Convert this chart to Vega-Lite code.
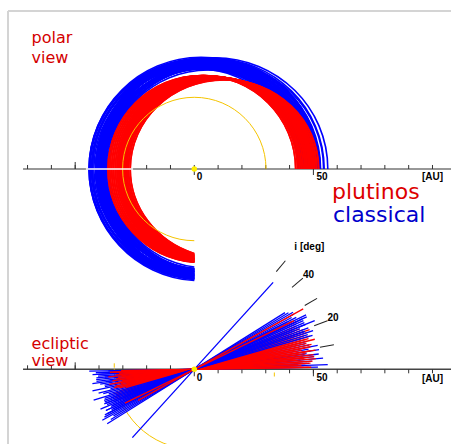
{
  "$schema": "https://vega.github.io/schema/vega-lite/v6.json",
  "width": 443,
  "height": 433,
  "autosize": "none",
  "padding": {"left": 8, "top": 11, "right": 0, "bottom": 0},
  "background": "white",
  "config": {"view": {"stroke": null}},
  "datasets": {
    "kbo": [
      {"g":"c","a":44.0,"e":0.06,"i":2},{"g":"c","a":43.0,"e":0.04,"i":5},{"g":"c","a":45.0,"e":0.02,"i":1},
      {"g":"c","a":46.5,"e":0.06,"i":12},{"g":"c","a":42.0,"e":0.04,"i":3},{"g":"c","a":47.5,"e":0.18,"i":2},
      {"g":"c","a":46.0,"e":0.1,"i":6},{"g":"c","a":43.5,"e":0.12,"i":10},{"g":"c","a":45.0,"e":0.1,"i":4},
      {"g":"c","a":45.5,"e":0.06,"i":3},{"g":"c","a":46.5,"e":0.14,"i":9},{"g":"c","a":44.0,"e":0.18,"i":1},
      {"g":"c","a":45.5,"e":0.16,"i":11},{"g":"c","a":46.0,"e":0.18,"i":5},{"g":"c","a":45.0,"e":0.04,"i":8},
      {"g":"c","a":42.5,"e":0.12,"i":8},{"g":"c","a":43.0,"e":0.08,"i":15},{"g":"c","a":47.0,"e":0.12,"i":7},
      {"g":"c","a":45.0,"e":0.08,"i":14},{"g":"c","a":42.0,"e":0.14,"i":13},
      {"g":"p","a":39.4,"e":0.1,"i":2},{"g":"p","a":39.5,"e":0.26,"i":4},{"g":"p","a":39.3,"e":0.18,"i":6},
      {"g":"p","a":39.4,"e":0.22,"i":1},{"g":"p","a":39.6,"e":0.3,"i":9},{"g":"p","a":39.4,"e":0.14,"i":12},
      {"g":"p","a":39.2,"e":0.24,"i":15},{"g":"p","a":39.5,"e":0.2,"i":3},{"g":"p","a":39.4,"e":0.28,"i":7},
      {"g":"p","a":39.3,"e":0.12,"i":18},{"g":"p","a":39.4,"e":0.16,"i":10},{"g":"p","a":39.5,"e":0.32,"i":14},
      {"g":"p","a":39.4,"e":0.08,"i":5},{"g":"p","a":39.4,"e":0.24,"i":20},{"g":"p","a":39.3,"e":0.2,"i":8},
      {"g":"p","a":39.5,"e":0.18,"i":16},{"g":"p","a":39.4,"e":0.26,"i":11},{"g":"p","a":39.6,"e":0.22,"i":13},
      {"g":"p","a":39.4,"e":0.3,"i":19},{"g":"p","a":39.3,"e":0.14,"i":22},{"g":"p","a":39.4,"e":0.1,"i":17},
      {"g":"p","a":39.5,"e":0.28,"i":6},{"g":"p","a":39.4,"e":0.2,"i":21},{"g":"p","a":39.4,"e":0.16,"i":4},
      {"g":"p","a":39.2,"e":0.26,"i":9},{"g":"p","a":39.5,"e":0.12,"i":8},{"g":"p","a":39.4,"e":0.24,"i":3},
      {"g":"p","a":39.4,"e":0.18,"i":14},{"g":"p","a":39.4,"e":0.22,"i":17},{"g":"p","a":39.3,"e":0.28,"i":12},
      {"g":"p","a":39.4,"e":0.08,"i":10},{"g":"p","a":39.5,"e":0.2,"i":25},{"g":"p","a":39.4,"e":0.26,"i":15},
      {"g":"p","a":39.4,"e":0.16,"i":7},{"g":"p","a":39.3,"e":0.24,"i":19},{"g":"p","a":39.5,"e":0.14,"i":2},
      {"g":"p","a":39.4,"e":0.3,"i":5},{"g":"p","a":39.4,"e":0.18,"i":23},{"g":"p","a":39.5,"e":0.22,"i":9},
      {"g":"p","a":39.4,"e":0.12,"i":13},{"g":"p","a":39.3,"e":0.26,"i":18},{"g":"p","a":39.4,"e":0.2,"i":11},
      {"g":"p","a":39.6,"e":0.24,"i":1},{"g":"p","a":39.4,"e":0.28,"i":16},{"g":"p","a":39.4,"e":0.1,"i":20},
      {"g":"p","a":39.4,"e":0.22,"i":6},
      {"g":"c","a":45.5,"e":0.1,"i":25},{"g":"c","a":46.0,"e":0.14,"i":18},{"g":"c","a":44.5,"e":0.08,"i":27},
      {"g":"c","a":47.0,"e":0.16,"i":22},{"g":"c","a":43.5,"e":0.1,"i":30},
      {"g":"c","a":44.0,"e":0.14,"i":24},{"g":"c","a":45.5,"e":0.12,"i":20},
      {"g":"c","a":44.5,"e":0.04,"i":28},{"g":"c","a":42.5,"e":0.06,"i":21},{"g":"c","a":45.0,"e":0.16,"i":26},
      {"g":"c","a":46.5,"e":0.08,"i":23},{"g":"c","a":44.0,"e":0.02,"i":32},{"g":"c","a":43.0,"e":0.14,"i":19},
      {"g":"c","a":44.5,"e":0.16,"i":16},{"g":"c","a":42.0,"e":0.08,"i":26},
      {"g":"c","a":46.0,"e":0.04,"i":29},{"g":"c","a":43.5,"e":0.16,"i":22},{"g":"c","a":44.0,"e":0.12,"i":47.8},
      {"g":"c","a":42.5,"e":0.1,"i":24},{"g":"c","a":47.0,"e":0.06,"i":17},
      {"g":"c","a":43.0,"e":0.02,"i":27},{"g":"c","a":44.5,"e":0.1,"i":19},{"g":"c","a":43.5,"e":0.06,"i":31},
      {"g":"c","a":46.5,"e":0.12,"i":25},{"g":"c","a":44.0,"e":0.08,"i":21},
      {"g":"p","a":39.6,"e":0.32,"i":29},{"g":"p","a":39.5,"e":0.18,"i":26}
    ],
    "ticks": [
      {"t":-70},{"t":-60},{"t":-50},{"t":-40},{"t":-30},{"t":-20},{"t":-10},{"t":0},{"t":10},
      {"t":20},{"t":30},{"t":40},{"t":50},{"t":60},{"t":70},{"t":80},{"t":90},{"t":100}
    ],
    "incl": [{"deg":10},{"deg":20},{"deg":30},{"deg":40},{"deg":50}],
    "one": [{}]
  },
  "resolve": {"scale": {"y": "independent", "shape": "independent"}},
  "layer": [
    {
      "layer": [
        {
          "data": {"name": "one"},
          "mark": {"type": "rule", "color": "#d4d4d4", "strokeWidth": 2},
          "encoding": {
            "x": {"datum": -78.21, "type": "quantitative", "scale": {"domain": [-78.21, 107.77], "nice": false, "zero": false}, "axis": null},
            "y": {"datum": 66.33, "type": "quantitative", "scale": {"domain": [-115.45, 66.33], "nice": false, "zero": false}, "axis": null},
            "y2": {"datum": -115.45}
          }
        },
        {
          "data": {"name": "one"},
          "mark": {"type": "rule", "color": "#d4d4d4", "strokeWidth": 2},
          "encoding": {
            "x": {"datum": -78.21, "type": "quantitative", "scale": {"domain": [-78.21, 107.77], "nice": false, "zero": false}, "axis": null},
            "x2": {"datum": 107.77},
            "y": {"datum": 66.33, "type": "quantitative", "scale": {"domain": [-115.45, 66.33], "nice": false, "zero": false}, "axis": null}
          }
        },
        {
          "data": {"name": "one"},
          "mark": {"type": "rule", "color": "#333333", "strokeWidth": 1.2},
          "encoding": {
            "x": {"datum": -71.9, "type": "quantitative", "scale": {"domain": [-78.21, 107.77], "nice": false, "zero": false}, "axis": null},
            "x2": {"datum": 107.77},
            "y": {"datum": 0, "type": "quantitative", "scale": {"domain": [-115.45, 66.33], "nice": false, "zero": false}, "axis": null}
          }
        },
        {
          "data": {"name": "ticks"},
          "mark": {"type": "rule", "color": "#333333", "strokeWidth": 1},
          "encoding": {
            "x": {"field": "t", "type": "quantitative", "scale": {"domain": [-78.21, 107.77], "nice": false, "zero": false}, "axis": null},
            "y": {"datum": 0, "type": "quantitative", "scale": {"domain": [-115.45, 66.33], "nice": false, "zero": false}, "axis": null},
            "y2": {"datum": 1.68}
          }
        },
        {
          "data": {"name": "one"},
          "mark": {"type": "rule", "color": "#333333", "strokeWidth": 1},
          "encoding": {
            "x": {"datum": -50, "type": "quantitative", "scale": {"domain": [-78.21, 107.77], "nice": false, "zero": false}, "axis": null},
            "y": {"datum": 0, "type": "quantitative", "scale": {"domain": [-115.45, 66.33], "nice": false, "zero": false}, "axis": null},
            "y2": {"datum": 2.94}
          }
        },
        {
          "data": {"name": "ticks"},
          "transform": [{"filter": "datum.t == 0 || datum.t == 50"}],
          "mark": {"type": "rule", "color": "#333333", "strokeWidth": 1},
          "encoding": {
            "x": {"field": "t", "type": "quantitative", "scale": {"domain": [-78.21, 107.77], "nice": false, "zero": false}, "axis": null},
            "y": {"datum": 0, "type": "quantitative", "scale": {"domain": [-115.45, 66.33], "nice": false, "zero": false}, "axis": null},
            "y2": {"datum": -2.52}
          }
        },
        {
          "data": {"name": "kbo"},
          "transform": [{"filter": "datum.g == 'c'"}],
          "mark": {"type": "point", "filled": false, "opacity": 1, "strokeWidth": 1.6},
          "encoding": {
            "x": {"datum": 0, "type": "quantitative", "scale": {"domain": [-78.21, 107.77], "nice": false, "zero": false}, "axis": null},
            "y": {"datum": 0, "type": "quantitative", "scale": {"domain": [-115.45, 66.33], "nice": false, "zero": false}, "axis": null},
            "size": {"field": "a", "type": "quantitative", "scale": {"type": "pow", "exponent": 2, "domain": [0, 100], "range": [0, 226957]}, "legend": null},
            "shape": {"field": "e", "type": "nominal", "legend": null, "scale": {
              "domain": [0.02,0.04,0.06,0.08,0.1,0.12,0.14,0.16,0.18,0.2,0.22,0.24,0.26,0.28,0.3,0.32],
              "range": [
                "M 1.02 0 A 1 0.9998 0 1 0 -0.98 0 A 1 0.9998 0 0 0 0 0.9996",
                "M 1.04 0 A 1 0.9992 0 1 0 -0.96 0 A 1 0.9992 0 0 0 0 0.9984",
                "M 1.06 0 A 1 0.9982 0 1 0 -0.94 0 A 1 0.9982 0 0 0 0 0.9964",
                "M 1.08 0 A 1 0.9968 0 1 0 -0.92 0 A 1 0.9968 0 0 0 0 0.9936",
                "M 1.1 0 A 1 0.995 0 1 0 -0.9 0 A 1 0.995 0 0 0 0 0.99",
                "M 1.12 0 A 1 0.9928 0 1 0 -0.88 0 A 1 0.9928 0 0 0 0 0.9856",
                "M 1.14 0 A 1 0.9902 0 1 0 -0.86 0 A 1 0.9902 0 0 0 0 0.9804",
                "M 1.16 0 A 1 0.9871 0 1 0 -0.84 0 A 1 0.9871 0 0 0 0 0.9744",
                "M 1.18 0 A 1 0.9837 0 1 0 -0.82 0 A 1 0.9837 0 0 0 0 0.9676",
                "M 1.2 0 A 1 0.9798 0 1 0 -0.8 0 A 1 0.9798 0 0 0 0 0.96",
                "M 1.22 0 A 1 0.9755 0 1 0 -0.78 0 A 1 0.9755 0 0 0 0 0.9516",
                "M 1.24 0 A 1 0.9708 0 1 0 -0.76 0 A 1 0.9708 0 0 0 0 0.9424",
                "M 1.26 0 A 1 0.9656 0 1 0 -0.74 0 A 1 0.9656 0 0 0 0 0.9324",
                "M 1.28 0 A 1 0.96 0 1 0 -0.72 0 A 1 0.96 0 0 0 0 0.9216",
                "M 1.3 0 A 1 0.9539 0 1 0 -0.7 0 A 1 0.9539 0 0 0 0 0.91",
                "M 1.32 0 A 1 0.9474 0 1 0 -0.68 0 A 1 0.9474 0 0 0 0 0.8976"
              ]}},
            "color": {"field": "g", "type": "nominal", "scale": {"domain": ["c", "p"], "range": ["#0000ff", "#ff0000"]}, "legend": null}
          }
        },
        {
          "data": {"name": "kbo"},
          "transform": [{"filter": "datum.g == 'p'"}],
          "mark": {"type": "point", "filled": false, "opacity": 1, "strokeWidth": 1.6},
          "encoding": {
            "x": {"datum": 0, "type": "quantitative", "scale": {"domain": [-78.21, 107.77], "nice": false, "zero": false}, "axis": null},
            "y": {"datum": 0, "type": "quantitative", "scale": {"domain": [-115.45, 66.33], "nice": false, "zero": false}, "axis": null},
            "size": {"field": "a", "type": "quantitative", "scale": {"type": "pow", "exponent": 2, "domain": [0, 100], "range": [0, 226957]}, "legend": null},
            "shape": {"field": "e", "type": "nominal", "legend": null, "scale": {
              "domain": [0.02,0.04,0.06,0.08,0.1,0.12,0.14,0.16,0.18,0.2,0.22,0.24,0.26,0.28,0.3,0.32],
              "range": [
                "M 1.02 0 A 1 0.9998 0 1 0 -0.98 0 A 1 0.9998 0 0 0 0 0.9996",
                "M 1.04 0 A 1 0.9992 0 1 0 -0.96 0 A 1 0.9992 0 0 0 0 0.9984",
                "M 1.06 0 A 1 0.9982 0 1 0 -0.94 0 A 1 0.9982 0 0 0 0 0.9964",
                "M 1.08 0 A 1 0.9968 0 1 0 -0.92 0 A 1 0.9968 0 0 0 0 0.9936",
                "M 1.1 0 A 1 0.995 0 1 0 -0.9 0 A 1 0.995 0 0 0 0 0.99",
                "M 1.12 0 A 1 0.9928 0 1 0 -0.88 0 A 1 0.9928 0 0 0 0 0.9856",
                "M 1.14 0 A 1 0.9902 0 1 0 -0.86 0 A 1 0.9902 0 0 0 0 0.9804",
                "M 1.16 0 A 1 0.9871 0 1 0 -0.84 0 A 1 0.9871 0 0 0 0 0.9744",
                "M 1.18 0 A 1 0.9837 0 1 0 -0.82 0 A 1 0.9837 0 0 0 0 0.9676",
                "M 1.2 0 A 1 0.9798 0 1 0 -0.8 0 A 1 0.9798 0 0 0 0 0.96",
                "M 1.22 0 A 1 0.9755 0 1 0 -0.78 0 A 1 0.9755 0 0 0 0 0.9516",
                "M 1.24 0 A 1 0.9708 0 1 0 -0.76 0 A 1 0.9708 0 0 0 0 0.9424",
                "M 1.26 0 A 1 0.9656 0 1 0 -0.74 0 A 1 0.9656 0 0 0 0 0.9324",
                "M 1.28 0 A 1 0.96 0 1 0 -0.72 0 A 1 0.96 0 0 0 0 0.9216",
                "M 1.3 0 A 1 0.9539 0 1 0 -0.7 0 A 1 0.9539 0 0 0 0 0.91",
                "M 1.32 0 A 1 0.9474 0 1 0 -0.68 0 A 1 0.9474 0 0 0 0 0.8976"
              ]}},
            "color": {"field": "g", "type": "nominal", "scale": {"domain": ["c", "p"], "range": ["#0000ff", "#ff0000"]}, "legend": null}
          }
        },
        {
          "data": {"name": "one"},
          "mark": {"type": "point", "filled": false, "opacity": 1, "strokeWidth": 1, "color": "#f5c400", "shape": "M 1 0 A 1 1 0 1 0 -1 0 A 1 1 0 0 0 0 1"},
          "encoding": {
            "x": {"datum": 0, "type": "quantitative", "scale": {"domain": [-78.21, 107.77], "nice": false, "zero": false}, "axis": null},
            "y": {"datum": 0, "type": "quantitative", "scale": {"domain": [-115.45, 66.33], "nice": false, "zero": false}, "axis": null},
            "size": {"datum": 30.1, "type": "quantitative", "scale": {"type": "pow", "exponent": 2, "domain": [0, 100], "range": [0, 226957]}, "legend": null}
          }
        },
        {
          "data": {"name": "one"},
          "mark": {"type": "rule", "color": "#ffffff", "strokeWidth": 1.5},
          "encoding": {
            "x": {"datum": -45.5, "type": "quantitative", "scale": {"domain": [-78.21, 107.77], "nice": false, "zero": false}, "axis": null},
            "x2": {"datum": -25.7},
            "y": {"datum": 0, "type": "quantitative", "scale": {"domain": [-115.45, 66.33], "nice": false, "zero": false}, "axis": null}
          }
        },
        {
          "data": {"name": "one"},
          "mark": {"type": "point", "filled": true, "opacity": 1, "color": "#ffee00", "size": 30, "shape": "circle"},
          "encoding": {
            "x": {"datum": 0, "type": "quantitative", "scale": {"domain": [-78.21, 107.77], "nice": false, "zero": false}, "axis": null},
            "y": {"datum": 0, "type": "quantitative", "scale": {"domain": [-115.45, 66.33], "nice": false, "zero": false}, "axis": null}
          }
        },
        {
          "data": {"name": "one"},
          "mark": {"type": "text", "text": "polar", "align": "left", "baseline": "alphabetic", "font": "DejaVu Sans", "fontSize": 16, "color": "#d40000"},
          "encoding": {
            "x": {"datum": -68.3, "type": "quantitative", "scale": {"domain": [-78.21, 107.77], "nice": false, "zero": false}, "axis": null},
            "y": {"datum": 52.7, "type": "quantitative", "scale": {"domain": [-115.45, 66.33], "nice": false, "zero": false}, "axis": null}
          }
        },
        {
          "data": {"name": "one"},
          "mark": {"type": "text", "text": "view", "align": "left", "baseline": "alphabetic", "font": "DejaVu Sans", "fontSize": 16, "color": "#d40000"},
          "encoding": {
            "x": {"datum": -68.3, "type": "quantitative", "scale": {"domain": [-78.21, 107.77], "nice": false, "zero": false}, "axis": null},
            "y": {"datum": 44.7, "type": "quantitative", "scale": {"domain": [-115.45, 66.33], "nice": false, "zero": false}, "axis": null}
          }
        },
        {
          "data": {"name": "one"},
          "mark": {"type": "text", "text": "plutinos", "align": "left", "baseline": "alphabetic", "font": "DejaVu Sans", "fontSize": 22, "color": "#dd0000"},
          "encoding": {
            "x": {"datum": 57.8, "type": "quantitative", "scale": {"domain": [-78.21, 107.77], "nice": false, "zero": false}, "axis": null},
            "y": {"datum": -12.47, "type": "quantitative", "scale": {"domain": [-115.45, 66.33], "nice": false, "zero": false}, "axis": null}
          }
        },
        {
          "data": {"name": "one"},
          "mark": {"type": "text", "text": "classical", "align": "left", "baseline": "alphabetic", "font": "DejaVu Sans", "fontSize": 22, "color": "#0000cc"},
          "encoding": {
            "x": {"datum": 58.2, "type": "quantitative", "scale": {"domain": [-78.21, 107.77], "nice": false, "zero": false}, "axis": null},
            "y": {"datum": -22.12, "type": "quantitative", "scale": {"domain": [-115.45, 66.33], "nice": false, "zero": false}, "axis": null}
          }
        },
        {
          "data": {"name": "one"},
          "mark": {"type": "text", "text": "0", "align": "left", "baseline": "alphabetic", "dx": 2.5, "dy": 11, "font": "Liberation Sans", "fontWeight": "bold", "fontSize": 10, "color": "#000000"},
          "encoding": {
            "x": {"datum": 0, "type": "quantitative", "scale": {"domain": [-78.21, 107.77], "nice": false, "zero": false}, "axis": null},
            "y": {"datum": 0, "type": "quantitative", "scale": {"domain": [-115.45, 66.33], "nice": false, "zero": false}, "axis": null}
          }
        },
        {
          "data": {"name": "one"},
          "mark": {"type": "text", "text": "50", "align": "left", "baseline": "alphabetic", "dx": 3, "dy": 11, "font": "Liberation Sans", "fontWeight": "bold", "fontSize": 10, "color": "#000000"},
          "encoding": {
            "x": {"datum": 50, "type": "quantitative", "scale": {"domain": [-78.21, 107.77], "nice": false, "zero": false}, "axis": null},
            "y": {"datum": 0, "type": "quantitative", "scale": {"domain": [-115.45, 66.33], "nice": false, "zero": false}, "axis": null}
          }
        },
        {
          "data": {"name": "one"},
          "mark": {"type": "text", "text": "[AU]", "align": "center", "baseline": "alphabetic", "dy": 11.5, "font": "Liberation Sans", "fontWeight": "bold", "fontSize": 10, "color": "#000000"},
          "encoding": {
            "x": {"datum": 100, "type": "quantitative", "scale": {"domain": [-78.21, 107.77], "nice": false, "zero": false}, "axis": null},
            "y": {"datum": 0, "type": "quantitative", "scale": {"domain": [-115.45, 66.33], "nice": false, "zero": false}, "axis": null}
          }
        }
      ]
    },
    {
      "layer": [
        {
          "data": {"name": "one"},
          "mark": {"type": "rule", "color": "#444444", "strokeWidth": 1.5},
          "encoding": {
            "x": {"datum": -71.9, "type": "quantitative", "scale": {"domain": [-78.21, 107.77], "nice": false, "zero": false}, "axis": null},
            "x2": {"datum": 107.77},
            "y": {"datum": 0, "type": "quantitative", "scale": {"domain": [-31.36, 150.42], "nice": false, "zero": false}, "axis": null}
          }
        },
        {
          "data": {"name": "ticks"},
          "transform": [{"filter": "datum.t < 0"}],
          "mark": {"type": "rule", "color": "#333333", "strokeWidth": 1},
          "encoding": {
            "x": {"field": "t", "type": "quantitative", "scale": {"domain": [-78.21, 107.77], "nice": false, "zero": false}, "axis": null},
            "y": {"datum": 0, "type": "quantitative", "scale": {"domain": [-31.36, 150.42], "nice": false, "zero": false}, "axis": null},
            "y2": {"datum": 1.68}
          }
        },
        {
          "data": {"name": "ticks"},
          "transform": [{"filter": "datum.t > 0"}],
          "mark": {"type": "rule", "color": "#333333", "strokeWidth": 1},
          "encoding": {
            "x": {"field": "t", "type": "quantitative", "scale": {"domain": [-78.21, 107.77], "nice": false, "zero": false}, "axis": null},
            "y": {"datum": 0, "type": "quantitative", "scale": {"domain": [-31.36, 150.42], "nice": false, "zero": false}, "axis": null},
            "y2": {"datum": -1.68}
          }
        },
        {
          "data": {"name": "one"},
          "mark": {"type": "rule", "color": "#333333", "strokeWidth": 1},
          "encoding": {
            "x": {"datum": -50, "type": "quantitative", "scale": {"domain": [-78.21, 107.77], "nice": false, "zero": false}, "axis": null},
            "y": {"datum": 0, "type": "quantitative", "scale": {"domain": [-31.36, 150.42], "nice": false, "zero": false}, "axis": null},
            "y2": {"datum": 2.94}
          }
        },
        {
          "data": {"name": "ticks"},
          "transform": [{"filter": "datum.t == 0 || datum.t == 50"}],
          "mark": {"type": "rule", "color": "#333333", "strokeWidth": 1},
          "encoding": {
            "x": {"field": "t", "type": "quantitative", "scale": {"domain": [-78.21, 107.77], "nice": false, "zero": false}, "axis": null},
            "y": {"datum": 0, "type": "quantitative", "scale": {"domain": [-31.36, 150.42], "nice": false, "zero": false}, "axis": null},
            "y2": {"datum": -2.94}
          }
        },
        {
          "data": {"name": "one"},
          "mark": {"type": "point", "filled": false, "opacity": 1, "strokeWidth": 1, "color": "#f5c400", "shape": "M -1 -0.075 L -1 -0.02 M -1 0 A 1 1 0 0 0 0 1 M 1 0.04 L 1 0.09"},
          "encoding": {
            "x": {"datum": 0, "type": "quantitative", "scale": {"domain": [-78.21, 107.77], "nice": false, "zero": false}, "axis": null},
            "y": {"datum": 0, "type": "quantitative", "scale": {"domain": [-31.36, 150.42], "nice": false, "zero": false}, "axis": null},
            "size": {"datum": 33.6, "type": "quantitative", "scale": {"type": "pow", "exponent": 2, "domain": [0, 100], "range": [0, 226957]}, "legend": null}
          }
        },
        {
          "data": {"name": "kbo"},
          "mark": {"type": "point", "filled": false, "opacity": 1, "strokeWidth": 1.3},
          "encoding": {
            "x": {"datum": 0, "type": "quantitative", "scale": {"domain": [-78.21, 107.77], "nice": false, "zero": false}, "axis": null},
            "y": {"datum": 0, "type": "quantitative", "scale": {"domain": [-31.36, 150.42], "nice": false, "zero": false}, "axis": null},
            "size": {"field": "a", "type": "quantitative", "scale": {"type": "pow", "exponent": 2, "domain": [0, 100], "range": [0, 226957]}, "legend": null},
            "angle": {"field": "i", "type": "quantitative", "scale": {"domain": [0, 90], "range": [0, -90]}},
            "shape": {"field": "e", "type": "nominal", "legend": null, "scale": {
              "domain": [0.02,0.04,0.06,0.08,0.1,0.12,0.14,0.16,0.18,0.2,0.22,0.24,0.26,0.28,0.3,0.32],
              "range": [
                "M -0.98 0 L 1.02 0", "M -0.96 0 L 1.04 0", "M -0.94 0 L 1.06 0", "M -0.92 0 L 1.08 0",
                "M -0.9 0 L 1.1 0", "M -0.88 0 L 1.12 0", "M -0.86 0 L 1.14 0", "M -0.84 0 L 1.16 0",
                "M -0.82 0 L 1.18 0", "M -0.8 0 L 1.2 0", "M -0.78 0 L 1.22 0", "M -0.76 0 L 1.24 0",
                "M -0.74 0 L 1.26 0", "M -0.72 0 L 1.28 0", "M -0.7 0 L 1.3 0", "M -0.68 0 L 1.32 0"
              ]}},
            "color": {"field": "g", "type": "nominal", "scale": {"domain": ["c", "p"], "range": ["#0000ff", "#ff0000"]}, "legend": null}
          }
        },
        {
          "data": {"name": "incl"},
          "mark": {"type": "point", "filled": false, "opacity": 1, "strokeWidth": 1, "color": "#222222", "shape": "M 0.9 0 L 1 0"},
          "encoding": {
            "x": {"datum": 0, "type": "quantitative", "scale": {"domain": [-78.21, 107.77], "nice": false, "zero": false}, "axis": null},
            "y": {"datum": 0, "type": "quantitative", "scale": {"domain": [-31.36, 150.42], "nice": false, "zero": false}, "axis": null},
            "size": {"datum": 59.5, "type": "quantitative", "scale": {"type": "pow", "exponent": 2, "domain": [0, 100], "range": [0, 226957]}, "legend": null},
            "angle": {"field": "deg", "type": "quantitative", "scale": {"domain": [0, 90], "range": [0, -90]}}
          }
        },
        {
          "data": {"name": "one"},
          "mark": {"type": "point", "filled": true, "opacity": 1, "color": "#ffee00", "size": 30, "shape": "circle"},
          "encoding": {
            "x": {"datum": 0, "type": "quantitative", "scale": {"domain": [-78.21, 107.77], "nice": false, "zero": false}, "axis": null},
            "y": {"datum": 0, "type": "quantitative", "scale": {"domain": [-31.36, 150.42], "nice": false, "zero": false}, "axis": null}
          }
        },
        {
          "data": {"name": "one"},
          "mark": {"type": "text", "text": "ecliptic", "align": "left", "baseline": "alphabetic", "font": "DejaVu Sans", "fontSize": 16, "color": "#d40000"},
          "encoding": {
            "x": {"datum": -68.3, "type": "quantitative", "scale": {"domain": [-78.21, 107.77], "nice": false, "zero": false}, "axis": null},
            "y": {"datum": 8.73, "type": "quantitative", "scale": {"domain": [-31.36, 150.42], "nice": false, "zero": false}, "axis": null}
          }
        },
        {
          "data": {"name": "one"},
          "mark": {"type": "text", "text": "view", "align": "left", "baseline": "alphabetic", "font": "DejaVu Sans", "fontSize": 16, "color": "#d40000"},
          "encoding": {
            "x": {"datum": -68.3, "type": "quantitative", "scale": {"domain": [-78.21, 107.77], "nice": false, "zero": false}, "axis": null},
            "y": {"datum": 1.39, "type": "quantitative", "scale": {"domain": [-31.36, 150.42], "nice": false, "zero": false}, "axis": null}
          }
        },
        {
          "data": {"name": "one"},
          "mark": {"type": "text", "text": "0", "align": "left", "baseline": "alphabetic", "dx": 2.5, "dy": 12, "font": "Liberation Sans", "fontWeight": "bold", "fontSize": 10, "color": "#000000"},
          "encoding": {
            "x": {"datum": 0, "type": "quantitative", "scale": {"domain": [-78.21, 107.77], "nice": false, "zero": false}, "axis": null},
            "y": {"datum": 0, "type": "quantitative", "scale": {"domain": [-31.36, 150.42], "nice": false, "zero": false}, "axis": null}
          }
        },
        {
          "data": {"name": "one"},
          "mark": {"type": "text", "text": "50", "align": "left", "baseline": "alphabetic", "dx": 3, "dy": 12, "font": "Liberation Sans", "fontWeight": "bold", "fontSize": 10, "color": "#000000"},
          "encoding": {
            "x": {"datum": 50, "type": "quantitative", "scale": {"domain": [-78.21, 107.77], "nice": false, "zero": false}, "axis": null},
            "y": {"datum": 0, "type": "quantitative", "scale": {"domain": [-31.36, 150.42], "nice": false, "zero": false}, "axis": null}
          }
        },
        {
          "data": {"name": "one"},
          "mark": {"type": "text", "text": "[AU]", "align": "center", "baseline": "alphabetic", "dy": 12.5, "font": "Liberation Sans", "fontWeight": "bold", "fontSize": 10, "color": "#000000"},
          "encoding": {
            "x": {"datum": 100, "type": "quantitative", "scale": {"domain": [-78.21, 107.77], "nice": false, "zero": false}, "axis": null},
            "y": {"datum": 0, "type": "quantitative", "scale": {"domain": [-31.36, 150.42], "nice": false, "zero": false}, "axis": null}
          }
        },
        {
          "data": {"name": "one"},
          "mark": {"type": "text", "text": "20", "align": "left", "baseline": "alphabetic", "font": "Liberation Sans", "fontWeight": "bold", "fontSize": 10, "color": "#000000"},
          "encoding": {
            "x": {"datum": 55.9, "type": "quantitative", "scale": {"domain": [-78.21, 107.77], "nice": false, "zero": false}, "axis": null},
            "y": {"datum": 20.35, "type": "quantitative", "scale": {"domain": [-31.36, 150.42], "nice": false, "zero": false}, "axis": null}
          }
        },
        {
          "data": {"name": "one"},
          "mark": {"type": "text", "text": "40", "align": "left", "baseline": "alphabetic", "font": "Liberation Sans", "fontWeight": "bold", "fontSize": 10, "color": "#000000"},
          "encoding": {
            "x": {"datum": 45.6, "type": "quantitative", "scale": {"domain": [-78.21, 107.77], "nice": false, "zero": false}, "axis": null},
            "y": {"datum": 38.2, "type": "quantitative", "scale": {"domain": [-31.36, 150.42], "nice": false, "zero": false}, "axis": null}
          }
        },
        {
          "data": {"name": "one"},
          "mark": {"type": "text", "text": "i [deg]", "align": "left", "baseline": "alphabetic", "font": "Liberation Sans", "fontWeight": "bold", "fontSize": 10, "color": "#000000"},
          "encoding": {
            "x": {"datum": 42.0, "type": "quantitative", "scale": {"domain": [-78.21, 107.77], "nice": false, "zero": false}, "axis": null},
            "y": {"datum": 50.1, "type": "quantitative", "scale": {"domain": [-31.36, 150.42], "nice": false, "zero": false}, "axis": null}
          }
        }
      ]
    }
  ]
}
